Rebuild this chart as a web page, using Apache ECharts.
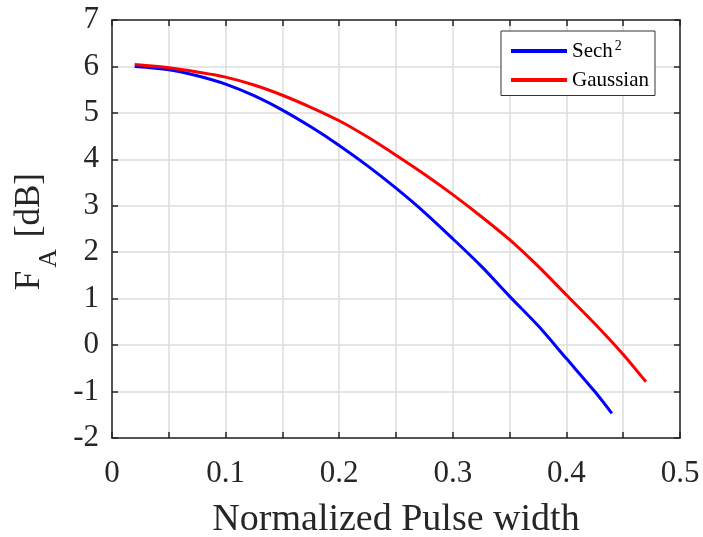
<!DOCTYPE html>
<html>
<head>
<meta charset="utf-8">
<script src="https://cdn.jsdelivr.net/npm/echarts@6/dist/echarts.min.js"></script>
<style>html,body{margin:0;padding:0;background:#fff}#c{width:703px;height:537px}</style>
</head>
<body>
<div id="c"></div>
<script>
const sechX = [0.02, 0.05, 0.075, 0.1, 0.125, 0.15, 0.175, 0.2, 0.225, 0.25, 0.275, 0.3, 0.325, 0.35, 0.375, 0.4, 0.425, 0.44];
const sechY = [6.00, 5.93, 5.80, 5.62, 5.37, 5.06, 4.70, 4.30, 3.86, 3.38, 2.86, 2.29, 1.70, 1.05, 0.42, -0.29, -1.00, -1.47];
const gaussX = [0.02, 0.05, 0.075, 0.1, 0.125, 0.15, 0.175, 0.2, 0.225, 0.25, 0.275, 0.3, 0.325, 0.35, 0.375, 0.4, 0.425, 0.45, 0.47];
const gaussY = [6.04, 5.97, 5.88, 5.77, 5.60, 5.38, 5.12, 4.83, 4.48, 4.09, 3.68, 3.24, 2.77, 2.27, 1.70, 1.08, 0.46, -0.20, -0.79];
const xLabels = ['0', '0.1', '0.2', '0.3', '0.4', '0.5'];
const yTicks = [-2, -1, 0, 1, 2, 3, 4, 5, 6, 7];

const FONT = "'Liberation Serif', 'Times New Roman', serif";
const AX = '#262626';
const chart = echarts.init(document.getElementById('c'));
const zip = (xs, ys) => xs.map((x, i) => [x, ys[i]]);

const axisCommon = {
  axisLine: { show: true, onZero: false, lineStyle: { color: AX, width: 1.5 } },
  axisTick: { show: true, inside: true, length: 6, lineStyle: { color: AX, width: 1.5 } },
};

chart.setOption({
  animation: false,
  backgroundColor: '#fff',
  grid: { left: 112, right: 23, top: 20, bottom: 99, containLabel: false, outerBoundsMode: 'none' },
  legend: {
    orient: 'vertical',
    left: 501, top: 31,
    padding: [8, 6, 5, 10],
    itemGap: 8,
    itemWidth: 56, itemHeight: 4,
    borderColor: '#333', borderWidth: 1, backgroundColor: '#fff',
    icon: 'rect',
    textStyle: {
      fontFamily: FONT, fontSize: 21, color: '#000',
      rich: {
        a: { fontFamily: FONT, fontSize: 21, color: '#000' },
        sup: { fontFamily: FONT, fontSize: 14, color: '#000', verticalAlign: 'top', padding: [0, 0, 10, 2] }
      }
    },
    formatter: n => n === 'Sech2' ? '{a|Sech}{sup|2}' : '{a|' + n + '}',
    data: ['Sech2', 'Gaussian']
  },
  xAxis: [
    Object.assign({
      type: 'value', min: 0, max: 0.5, interval: 0.05, position: 'bottom',
      axisLabel: {
        fontFamily: FONT, fontSize: 31, color: AX, margin: 20,
        formatter: v => { const k = Math.round(v * 100); return k % 10 === 0 ? xLabels[k / 10] : ''; }
      },
      splitLine: { show: true, lineStyle: { color: '#dcdcdc', width: 1.5 } },
      name: 'Normalized Pulse width', nameLocation: 'middle', nameGap: 63,
      nameTextStyle: { fontFamily: FONT, fontSize: 38, color: AX }
    }, axisCommon),
    Object.assign({
      type: 'value', min: 0, max: 0.5, interval: 0.05, position: 'top',
      axisLabel: { show: false }, splitLine: { show: false }
    }, axisCommon)
  ],
  yAxis: [
    Object.assign({
      type: 'value', min: -2, max: 7, interval: 1, position: 'left',
      axisLabel: { fontFamily: FONT, fontSize: 31, color: AX, margin: 13,
        formatter: v => String(yTicks[Math.round(v) + 2]) },
      splitLine: { show: true, lineStyle: { color: '#dcdcdc', width: 1.5 } }
    }, axisCommon),
    Object.assign({
      type: 'value', min: -2, max: 7, interval: 1, position: 'right',
      axisLabel: { show: false }, splitLine: { show: false }
    }, axisCommon)
  ],
  graphic: [{
    type: 'text', left: 12, top: 173, rotation: Math.PI / 2, silent: true,
    style: {
      text: '{a|F}{s|A}{a| [dB]}',
      rich: {
        a: { fontFamily: FONT, fontSize: 35, fill: AX, lineHeight: 35, verticalAlign: 'top' },
        s: { fontFamily: FONT, fontSize: 26, fill: AX, lineHeight: 26, verticalAlign: 'top', padding: [24, 3, 0, 3] }
      }
    }
  }],
  series: [
    { name: 'Sech2', type: 'line', data: zip(sechX, sechY), smooth: 0.3, symbol: 'none',
      lineStyle: { color: '#0000ff', width: 3 }, itemStyle: { color: '#0000ff' } },
    { name: 'Gaussian', type: 'line', data: zip(gaussX, gaussY), smooth: 0.3, symbol: 'none',
      lineStyle: { color: '#ff0000', width: 3 }, itemStyle: { color: '#ff0000' } }
  ]
});
</script>
</body>
</html>
